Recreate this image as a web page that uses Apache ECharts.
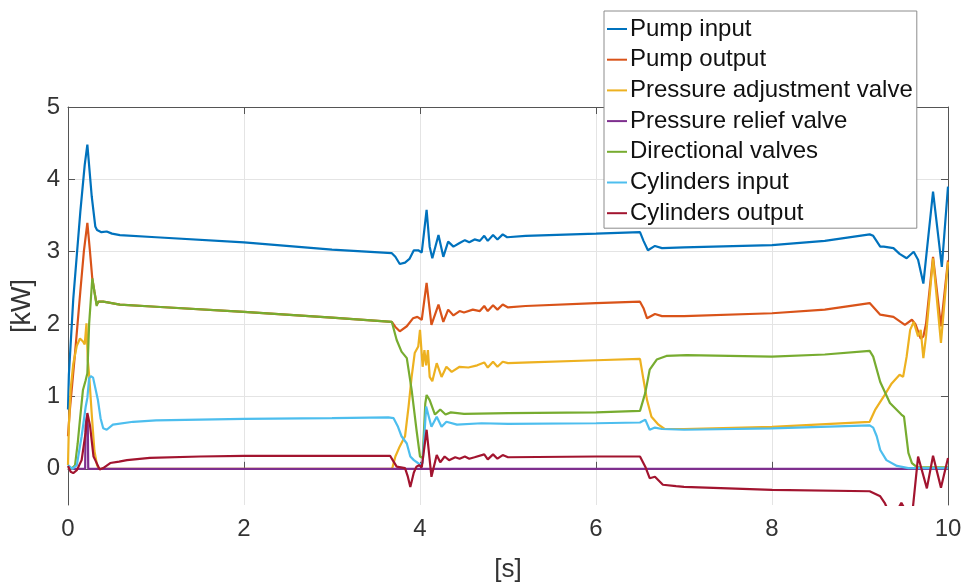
<!DOCTYPE html>
<html>
<head>
<meta charset="utf-8">
<script src="https://cdn.jsdelivr.net/npm/echarts@6/dist/echarts.min.js"></script>
<style>
  html, body { margin: 0; padding: 0; background: #fff; }
  #chart { width: 968px; height: 585px; }
</style>
</head>
<body>
<div id="chart"></div>
<script>
// Hydraulic power flow over one work cycle, [t (s), P (kW)]
const seriesNames = [
  'Pump input',
  'Pump output',
  'Pressure adjustment valve',
  'Pressure relief valve',
  'Directional valves',
  'Cylinders input',
  'Cylinders output'
];

const pumpInput = [
  [0,0.82],[0.01,1.3],[0.06,2.35],[0.14,3.55],[0.19,4.2],[0.22,4.48],[0.27,3.76],[0.31,3.35],[0.33,3.3],
  [0.38,3.27],[0.44,3.28],[0.5,3.25],[0.59,3.23],[1.0,3.2],[2.0,3.13],[3.0,3.03],[3.68,2.98],
  [3.72,2.93],[3.77,2.83],[3.83,2.85],[3.88,2.9],[3.93,3.02],[3.98,3.02],[4.02,2.99],[4.075,3.58],
  [4.11,3.07],[4.14,2.91],[4.21,3.23],[4.265,2.93],[4.32,3.14],[4.38,3.07],[4.45,3.12],[4.51,3.16],
  [4.56,3.13],[4.62,3.17],[4.68,3.15],[4.73,3.22],[4.77,3.15],[4.83,3.23],[4.88,3.17],[4.94,3.24],
  [4.99,3.2],[5.2,3.22],[6.0,3.25],[6.5,3.27],[6.54,3.15],[6.59,3.02],[6.67,3.08],[6.75,3.05],
  [7.0,3.06],[8.0,3.09],[8.6,3.15],[9.11,3.24],[9.15,3.22],[9.23,3.07],[9.27,3.07],[9.38,3.05],
  [9.45,2.97],[9.53,2.91],[9.61,3.0],[9.66,2.89],[9.72,2.56],[9.83,3.83],[9.93,2.79],[10,3.9]
];

const pumpOutput = [
  [0,0.45],[0.02,0.8],[0.08,1.6],[0.14,2.45],[0.18,3.0],[0.22,3.4],[0.25,3.0],[0.276,2.63],[0.3,2.45],
  [0.326,2.27],[0.35,2.31],[0.4,2.31],[0.45,2.3],[0.59,2.27],[1.0,2.24],[2.0,2.17],[3.0,2.09],
  [3.68,2.03],[3.72,1.96],[3.77,1.9],[3.85,1.97],[3.92,2.08],[3.97,2.1],[4.02,2.06],[4.075,2.57],
  [4.13,1.99],[4.21,2.27],[4.265,2.03],[4.32,2.2],[4.38,2.12],[4.45,2.18],[4.5,2.16],[4.6,2.2],
  [4.68,2.18],[4.73,2.25],[4.77,2.18],[4.83,2.26],[4.88,2.2],[4.94,2.27],[5.0,2.23],[5.2,2.25],
  [6.0,2.29],[6.5,2.31],[6.54,2.22],[6.58,2.08],[6.67,2.14],[6.75,2.11],[7.0,2.11],[8.0,2.15],
  [8.6,2.2],[9.11,2.29],[9.23,2.13],[9.38,2.1],[9.51,1.99],[9.59,2.06],[9.63,2.0],[9.69,1.8],
  [9.72,1.83],[9.75,2.0],[9.83,2.93],[9.92,1.97],[10,2.88]
];

const pressureAdjValve = [
  [0,0.05],[0.01,0.6],[0.03,1.1],[0.06,1.45],[0.1,1.7],[0.136,1.8],[0.17,1.76],[0.19,1.72],
  [0.21,2.01],[0.225,1.5],[0.24,1.3],[0.27,0.75],[0.3,0.25],[0.33,0.05],[0.35,0],[3.68,0],
  [3.69,0.03],[3.72,0.17],[3.77,0.31],[3.83,0.45],[3.87,0.86],[3.905,1.27],[3.94,1.6],[3.98,1.69],
  [4.0,1.92],[4.03,1.41],[4.05,1.64],[4.07,1.43],[4.09,1.64],[4.11,1.27],[4.14,1.21],[4.19,1.46],
  [4.245,1.27],[4.3,1.41],[4.36,1.34],[4.45,1.41],[4.55,1.4],[4.65,1.43],[4.73,1.47],[4.77,1.4],
  [4.83,1.48],[4.88,1.41],[4.94,1.48],[5.0,1.46],[5.25,1.47],[6.0,1.5],[6.5,1.52],[6.54,1.23],
  [6.58,0.95],[6.63,0.72],[6.71,0.61],[6.78,0.55],[7.0,0.55],[8.0,0.58],[9.11,0.65],[9.17,0.81],
  [9.27,1.0],[9.36,1.18],[9.45,1.3],[9.49,1.27],[9.53,1.55],[9.57,1.92],[9.61,2.03],[9.66,1.83],
  [9.69,1.92],[9.72,1.53],[9.75,1.83],[9.83,2.91],[9.92,1.74],[10,2.86]
];

const pressureReliefValve = [
  [0,0],[0.195,0],[0.2,0.6],[0.215,0.72],[0.225,0.6],[0.23,0],[10,0]
];

const directionalValves = [
  [0,0.02],[0.04,0.0],[0.08,0.05],[0.11,0.35],[0.136,0.68],[0.17,1.09],[0.2,1.22],[0.22,1.32],
  [0.24,2.0],[0.276,2.63],[0.3,2.45],[0.326,2.25],[0.34,2.31],[0.4,2.31],[0.45,2.3],[0.59,2.27],
  [1.0,2.24],[2.0,2.17],[3.0,2.09],[3.68,2.03],[3.735,1.78],[3.79,1.62],[3.85,1.53],[3.905,1.09],
  [3.96,0.54],[4.0,0.17],[4.03,0.15],[4.06,0.9],[4.075,1.02],[4.11,0.95],[4.17,0.75],[4.23,0.82],
  [4.29,0.75],[4.35,0.78],[4.5,0.76],[5.0,0.77],[6.0,0.78],[6.5,0.8],[6.56,1.05],[6.61,1.37],
  [6.69,1.51],[6.8,1.56],[7.03,1.57],[8.0,1.55],[8.6,1.58],[9.11,1.63],[9.15,1.55],[9.23,1.2],
  [9.34,0.91],[9.47,0.75],[9.5,0.72],[9.55,0.22],[9.59,0.08],[9.65,0.02],[10,0.02]
];

const cylindersInput = [
  [0,0.05],[0.05,0.0],[0.1,0.05],[0.155,0.45],[0.2,0.85],[0.22,0.98],[0.24,1.25],[0.26,1.28],
  [0.285,1.26],[0.34,0.95],[0.37,0.7],[0.4,0.56],[0.44,0.54],[0.51,0.61],[0.74,0.65],[1.0,0.67],
  [2.0,0.69],[3.0,0.7],[3.64,0.71],[3.7,0.7],[3.75,0.58],[3.79,0.45],[3.85,0.35],[3.89,0.17],
  [3.93,0.12],[4.0,0.06],[4.03,0.08],[4.07,0.86],[4.1,0.72],[4.13,0.58],[4.19,0.72],[4.245,0.58],
  [4.3,0.65],[4.42,0.61],[4.7,0.63],[5.0,0.62],[6.0,0.63],[6.5,0.64],[6.56,0.68],[6.61,0.54],
  [6.67,0.57],[6.75,0.55],[7.0,0.54],[8.0,0.56],[9.11,0.6],[9.15,0.57],[9.19,0.45],[9.23,0.26],
  [9.3,0.12],[9.42,0.04],[9.55,0.01],[10,0.01]
];

const cylindersOutput = [
  [0,0.04],[0.03,-0.04],[0.06,-0.06],[0.1,-0.02],[0.155,0.12],[0.2,0.5],[0.22,0.77],[0.25,0.6],
  [0.29,0.17],[0.31,0.12],[0.36,-0.01],[0.4,0.01],[0.48,0.08],[0.58,0.1],[0.67,0.12],[0.93,0.15],
  [1.5,0.17],[2.0,0.18],[3.66,0.18],[3.7,0.1],[3.735,0.03],[3.83,0.01],[3.86,-0.1],[3.89,-0.25],
  [3.93,-0.05],[3.96,0.03],[3.99,0.05],[4.02,0.02],[4.075,0.54],[4.13,-0.11],[4.19,0.19],
  [4.23,0.09],[4.28,0.17],[4.33,0.12],[4.4,0.16],[4.45,0.14],[4.51,0.17],[4.56,0.14],[4.62,0.16],
  [4.73,0.2],[4.77,0.13],[4.83,0.2],[4.88,0.14],[4.94,0.19],[5.0,0.16],[6.0,0.17],[6.5,0.17],
  [6.56,0.03],[6.61,-0.13],[6.67,-0.11],[6.76,-0.22],[6.91,-0.24],[7.0,-0.25],[8.0,-0.29],
  [9.11,-0.31],[9.23,-0.38],[9.28,-0.47],[9.33,-0.6],[9.42,-0.58],[9.47,-0.47],[9.52,-0.58],
  [9.6,-0.55],[9.66,0.17],[9.76,-0.27],[9.83,0.18],[9.92,-0.26],[10,0.15]
];

const seriesData = [
  pumpInput, pumpOutput, pressureAdjValve, pressureReliefValve,
  directionalValves, cylindersInput, cylindersOutput
];
const seriesColors = ['#0072BD', '#D95319', '#EDB120', '#7E2F8E', '#77AC30', '#4DBEEE', '#A2142F'];

const xTicks = [0, 2, 4, 6, 8, 10];
const yTicks = [0, 1, 2, 3, 4, 5];

const font = "'Liberation Sans', Arial, sans-serif";
const axisColor = '#555';
const gridColor = '#e4e4e4';

const chart = echarts.init(document.getElementById('chart'), null, { renderer: 'canvas' });

const hiddenAxisParts = {
  axisLabel: { show: false },
  splitLine: { show: false }
};

chart.setOption({
  animation: false,
  backgroundColor: '#fff',
  textStyle: { fontFamily: font },
  grid: { left: 68, right: 20, top: 107, bottom: 80, containLabel: false, outerBoundsMode: 'none' },
  legend: {
    data: seriesNames,
    orient: 'vertical',
    left: 604,
    top: 11,
    padding: [6, 4, 3, 3],
    itemGap: 6.7,
    itemWidth: 20,
    itemHeight: 2,
    icon: 'rect',
    backgroundColor: '#fff',
    borderColor: '#8c8c8c',
    borderWidth: 1,
    borderRadius: 0,
    z: 10,
    selectedMode: false,
    textStyle: { fontSize: 24, lineHeight: 24, color: '#111', fontFamily: font, padding: [0, 0, 0, -2] }
  },
  xAxis: [
    {
      type: 'value', min: 0, max: 10, interval: 2,
      name: '[s]', nameLocation: 'middle', nameGap: 52,
      nameTextStyle: { fontSize: 26, color: '#333', fontFamily: font },
      axisLine: { show: true, lineStyle: { color: axisColor, width: 1 } },
      axisTick: { show: true, inside: true, length: 7, lineStyle: { color: axisColor } },
      axisLabel: { fontSize: 24, color: '#333', margin: 12, fontFamily: font,
        customValues: xTicks },
      splitLine: { show: true, lineStyle: { color: gridColor, width: 1 } }
    },
    {
      type: 'value', min: 0, max: 10, interval: 2, position: 'top',
      axisLine: { show: true, onZero: false, lineStyle: { color: axisColor, width: 1 } },
      axisTick: { show: true, inside: true, length: 7, lineStyle: { color: axisColor } },
      ...hiddenAxisParts
    }
  ],
  yAxis: [
    {
      type: 'value', min: -0.5, max: 5,
      name: '[kW]', nameLocation: 'middle', nameGap: 26,
      nameTextStyle: { fontSize: 27, color: '#333', fontFamily: font },
      axisLine: { show: true, onZero: false, lineStyle: { color: axisColor, width: 1 } },
      axisTick: { show: true, inside: true, length: 7, lineStyle: { color: axisColor },
        customValues: yTicks },
      axisLabel: { fontSize: 24, color: '#333', margin: 8, fontFamily: font,
        customValues: yTicks },
      splitLine: { show: true, lineStyle: { color: gridColor, width: 1 } }
    },
    {
      type: 'value', min: -0.5, max: 5, position: 'right',
      axisLine: { show: true, onZero: false, lineStyle: { color: axisColor, width: 1 } },
      axisTick: { show: true, inside: true, length: 7, lineStyle: { color: axisColor },
        customValues: yTicks },
      ...hiddenAxisParts
    }
  ],
  series: seriesNames.map((name, i) => ({
    name,
    type: 'line',
    xAxisIndex: 0,
    yAxisIndex: 0,
    data: seriesData[i],
    color: seriesColors[i],
    showSymbol: false,
    symbol: 'none',
    clip: true,
    lineStyle: { width: 2.2, color: seriesColors[i] },
    emphasis: { disabled: true }
  }))
});
</script>
</body>
</html>
